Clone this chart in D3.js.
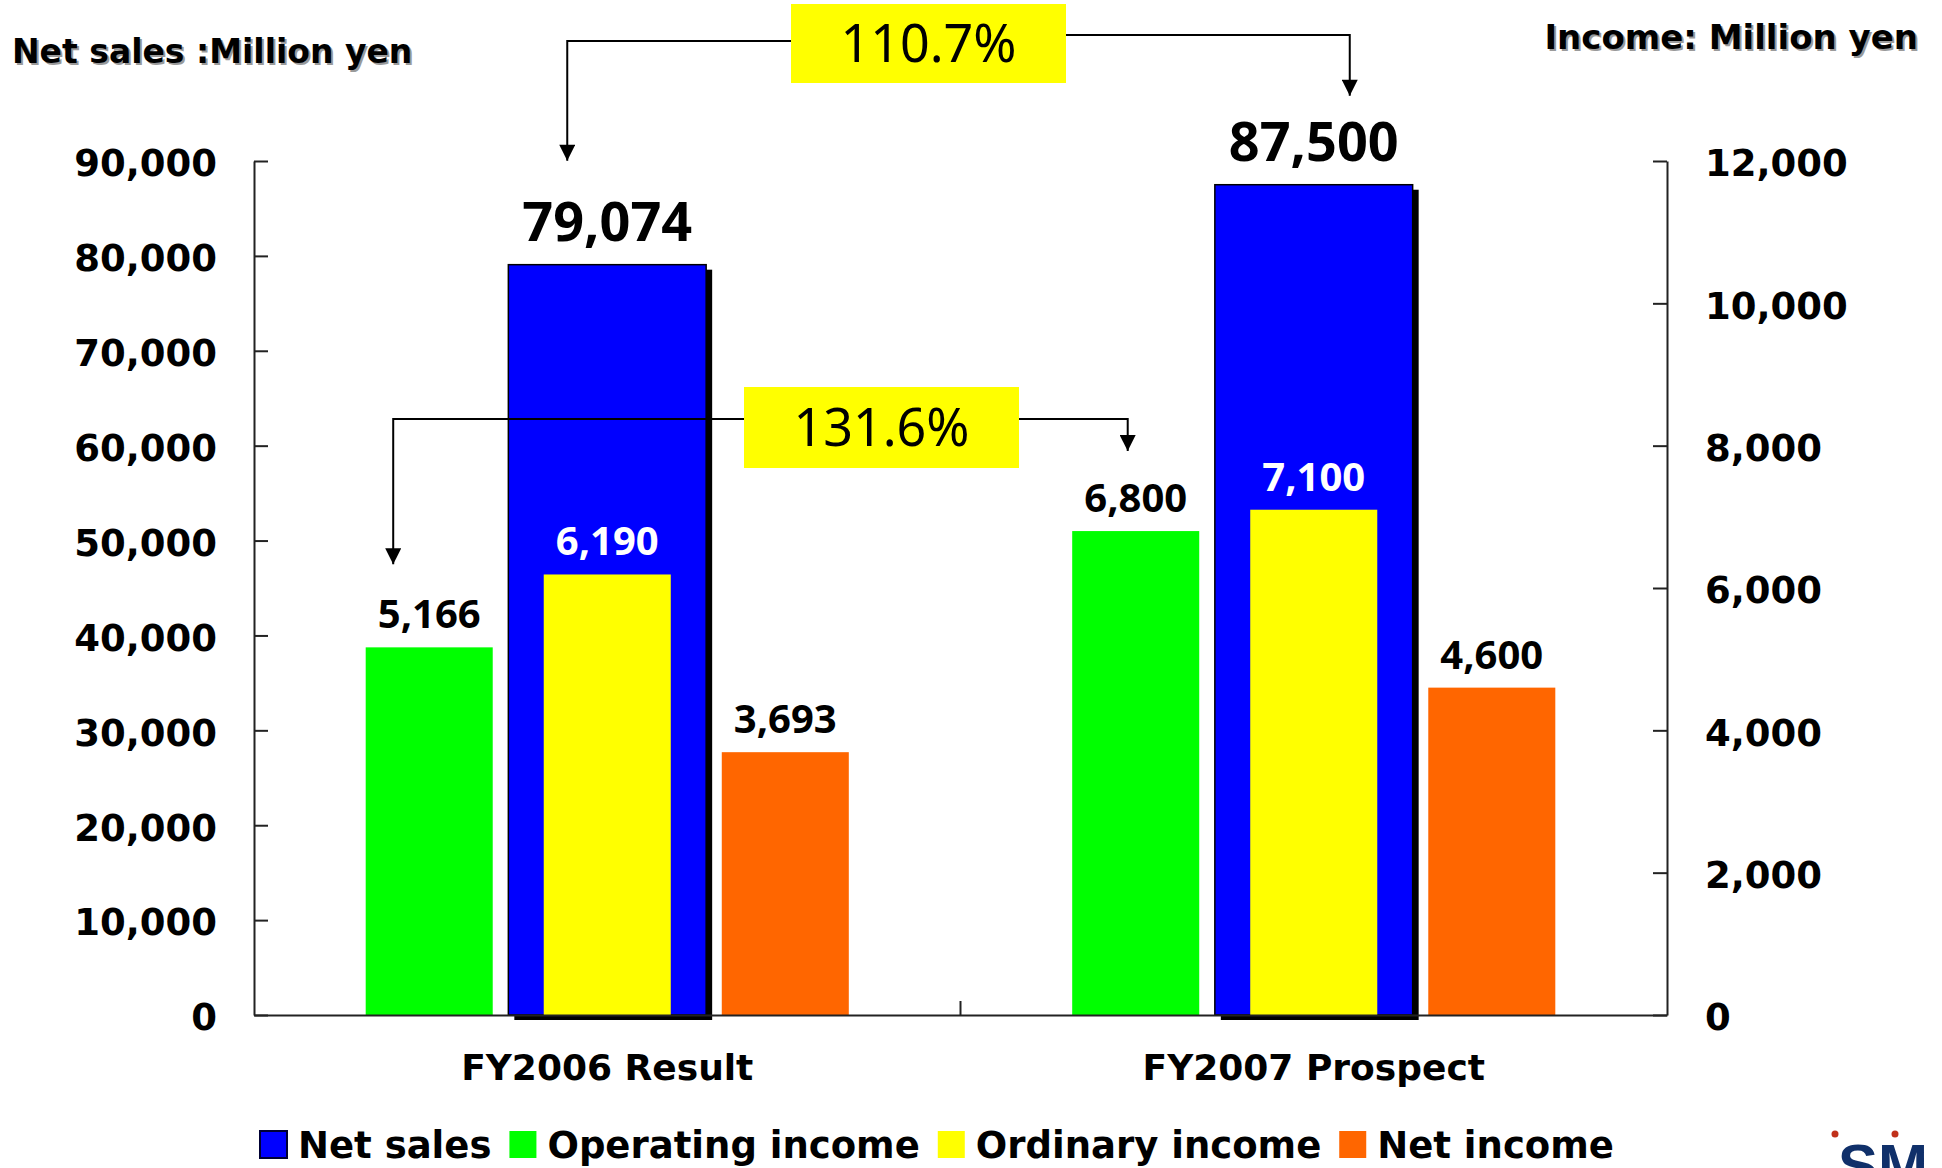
<!DOCTYPE html>
<html>
<head>
<meta charset="utf-8">
<script src="https://cdn.jsdelivr.net/npm/d3@7"></script>
<style>
  html, body { margin: 0; padding: 0; background: #ffffff; overflow: hidden; }
</style>
</head>
<body>
<svg id="chart" width="1942" height="1168"></svg>
<script>
// ---- data ----
const categories = ["FY2006 Result", "FY2007 Prospect"];
const netSales = [79074, 87500];
const operatingIncome = [5166, 6800];
const ordinaryIncome = [6190, 7100];
const netIncome = [3693, 4600];
const salesTicks = [0, 10000, 20000, 30000, 40000, 50000, 60000, 70000, 80000, 90000];
const incomeTicks = [0, 2000, 4000, 6000, 8000, 10000, 12000];
const seriesNames = ["Net sales", "Operating income", "Ordinary income", "Net income"];
const incomeSeries = ["Operating income", "Ordinary income", "Net income"];
const salesGrowth = "110.7%";
const operatingGrowth = "131.6%";

// ---- styling ----
const colors = {
  "Net sales": "#0000ff",
  "Operating income": "#00ff00",
  "Ordinary income": "#ffff00",
  "Net income": "#ff6600"
};
const axisFont = "'DejaVu Sans', Verdana, sans-serif";
const valueFont = "'Noto Sans', Tahoma, sans-serif";

const svg = d3.select("#chart");
const plot = { left: 254, right: 1667, top: 161, bottom: 1015 };

const ySales = d3.scaleLinear().domain([0, 90000]).range([plot.bottom, plot.top]);
const yIncome = d3.scaleLinear().domain([0, 12000]).range([plot.bottom, plot.top]);
const x0 = d3.scaleBand().domain(categories).range([plot.left, plot.right]).padding(0);
const bw = x0.bandwidth();
const x1 = d3.scaleBand().domain(incomeSeries)
  .range([bw / 2 - 0.378 * bw, bw / 2 + 0.378 * bw])
  .paddingInner(0.2865).paddingOuter(0.14325);
const salesWidth = 0.28 * bw;
const center = c => x0(c) + bw / 2;

// arrow head marker
svg.append("defs").append("marker")
  .attr("id", "arrow")
  .attr("viewBox", "0 0 10 10")
  .attr("refX", 10).attr("refY", 5)
  .attr("markerUnits", "userSpaceOnUse")
  .attr("markerWidth", 22).attr("markerHeight", 16)
  .attr("orient", "auto")
  .append("path").attr("d", "M0,0 L10,5 L0,10 Z").attr("fill", "#000");

// ---- axes ----
const leftAxis = svg.append("g")
  .attr("transform", `translate(${plot.left},0)`)
  .call(d3.axisLeft(ySales).tickValues(salesTicks).tickSize(-14).tickSizeOuter(0)
    .tickPadding(37).tickFormat(d3.format(",")));
const rightAxis = svg.append("g")
  .attr("transform", `translate(${plot.right},0)`)
  .call(d3.axisRight(yIncome).tickValues(incomeTicks).tickSize(-14).tickSizeOuter(0)
    .tickPadding(38).tickFormat(d3.format(",")));
[leftAxis, rightAxis].forEach(g => {
  g.select(".domain").attr("stroke", "#222").attr("stroke-width", 2);
  g.selectAll(".tick line").attr("stroke", "#222").attr("stroke-width", 2);
  g.selectAll(".tick text")
    .attr("dy", "0.4em")
    .attr("font-family", axisFont).attr("font-weight", "bold")
    .attr("font-size", 37).attr("fill", "#000");
});

// ---- net sales bars (left axis) with drop shadow ----
const salesG = svg.append("g");
salesG.selectAll("rect.shadow").data(categories).join("rect")
  .attr("class", "shadow")
  .attr("x", c => center(c) - salesWidth / 2 + 6)
  .attr("y", (c, i) => ySales(netSales[i]) + 5)
  .attr("width", salesWidth)
  .attr("height", (c, i) => plot.bottom - ySales(netSales[i]))
  .attr("fill", "#000");
salesG.selectAll("rect.bar").data(categories).join("rect")
  .attr("class", "bar")
  .attr("x", c => center(c) - salesWidth / 2)
  .attr("y", (c, i) => ySales(netSales[i]))
  .attr("width", salesWidth)
  .attr("height", (c, i) => plot.bottom - ySales(netSales[i]))
  .attr("fill", colors["Net sales"])
  .attr("stroke", "#000").attr("stroke-width", 1.5);

// ---- income bars (right axis) ----
const incomeValues = {
  "Operating income": operatingIncome,
  "Ordinary income": ordinaryIncome,
  "Net income": netIncome
};
const incomeData = [];
categories.forEach((c, i) => incomeSeries.forEach(s =>
  incomeData.push({ cat: c, series: s, value: incomeValues[s][i] })));

svg.append("g").selectAll("rect").data(incomeData).join("rect")
  .attr("x", d => x0(d.cat) + x1(d.series))
  .attr("y", d => yIncome(d.value))
  .attr("width", x1.bandwidth())
  .attr("height", d => plot.bottom - yIncome(d.value))
  .attr("fill", d => colors[d.series]);

// ---- baseline with category divider ----
const bottomAxis = svg.append("g")
  .attr("transform", `translate(0,${plot.bottom})`)
  .call(d3.axisBottom(x0).tickSize(0).tickPadding(39).tickSizeOuter(0));
bottomAxis.select(".domain").attr("stroke", "#222").attr("stroke-width", 2);
bottomAxis.selectAll(".tick text")
  .attr("font-family", axisFont).attr("font-weight", "bold")
  .attr("font-size", 36).attr("fill", "#000");
bottomAxis.append("line")
  .attr("x1", x0(categories[1])).attr("x2", x0(categories[1]))
  .attr("y1", 0).attr("y2", -14)
  .attr("stroke", "#222").attr("stroke-width", 2);

// ---- value labels ----
svg.append("g").selectAll("text").data(categories).join("text")
  .attr("x", c => center(c))
  .attr("y", (c, i) => ySales(netSales[i]) - 24)
  .attr("text-anchor", "middle")
  .attr("font-family", valueFont).attr("font-weight", "bold")
  .attr("font-size", 54).attr("fill", "#000")
  .text((c, i) => d3.format(",")(netSales[i]));

svg.append("g").selectAll("text").data(incomeData).join("text")
  .attr("x", d => x0(d.cat) + x1(d.series) + x1.bandwidth() / 2)
  .attr("y", d => yIncome(d.value) - 19)
  .attr("text-anchor", "middle")
  .attr("font-family", valueFont).attr("font-weight", "bold")
  .attr("font-size", 40)
  .attr("fill", d => d.series === "Ordinary income" ? "#ffffff" : "#000000")
  .text(d => d3.format(",")(d.value));

// ---- growth callouts ----
function callout(points1, points2, box, label) {
  const g = svg.append("g");
  const line = d3.line();
  [points1, points2].forEach(p => g.append("path")
    .attr("d", line(p)).attr("fill", "none")
    .attr("stroke", "#000").attr("stroke-width", 2)
    .attr("marker-end", "url(#arrow)"));
  g.append("rect")
    .attr("x", box.x).attr("y", box.y).attr("width", box.w).attr("height", box.h)
    .attr("fill", "#ffff00");
  g.append("text")
    .attr("x", box.x + box.w / 2).attr("y", box.y + box.h / 2)
    .attr("dy", "0.36em").attr("text-anchor", "middle")
    .attr("font-family", valueFont).attr("font-size", 52).attr("fill", "#000")
    .text(label);
}

// net sales growth: FY2006 -> FY2007
const sx1 = center(categories[0]) - 40, sx2 = center(categories[1]) + 36;
callout(
  [[792, 41], [sx1, 41], [sx1, ySales(netSales[0]) - 104]],
  [[1066, 35], [sx2, 35], [sx2, ySales(netSales[1]) - 89]],
  { x: 791, y: 4, w: 275, h: 79 }, salesGrowth);

// operating income growth: FY2006 -> FY2007
const ox1 = x0(categories[0]) + x1("Operating income") + x1.bandwidth() / 2 - 36;
const ox2 = x0(categories[1]) + x1("Operating income") + x1.bandwidth() / 2 - 8;
callout(
  [[744, 419], [ox1, 419], [ox1, yIncome(operatingIncome[0]) - 83]],
  [[1019, 419], [ox2, 419], [ox2, yIncome(operatingIncome[1]) - 80]],
  { x: 744, y: 387, w: 275, h: 81 }, operatingGrowth);

// ---- unit titles with soft shadow ----
function title(x, y, anchor, txt, size) {
  const g = svg.append("g").attr("font-family", axisFont)
    .attr("font-weight", "bold").attr("font-size", size).attr("text-anchor", anchor);
  g.append("text").attr("x", x + 2).attr("y", y + 2).attr("fill", "#9a9a9a").text(txt);
  g.append("text").attr("x", x).attr("y", y).attr("fill", "#000").text(txt);
}
title(12, 63, "start", "Net sales :Million yen", 33);
title(1918, 49, "end", "Income: Million yen", 34);

// ---- legend ----
const legend = svg.append("g").attr("transform", "translate(260,1131)");
let lx = 0;
seriesNames.forEach(name => {
  legend.append("rect").attr("x", lx).attr("y", 0).attr("width", 27).attr("height", 27)
    .attr("fill", colors[name])
    .attr("stroke", name === "Net sales" ? "#000033" : "none").attr("stroke-width", 2);
  const t = legend.append("text").attr("x", lx + 38).attr("y", 27)
    .attr("font-family", axisFont).attr("font-weight", "bold")
    .attr("font-size", 37).attr("fill", "#000").text(name);
  lx += 38 + t.node().getComputedTextLength() + 18;
});

// ---- corporate mark (partly cut at page edge) ----
const logo = svg.append("g");
logo.append("text").attr("x", 1838).attr("y", 1186)
  .attr("font-family", "'Liberation Sans', Arial, sans-serif").attr("font-weight", "bold")
  .attr("font-size", 60).attr("fill", "#10306a").text("SM");
logo.append("circle").attr("cx", 1835).attr("cy", 1134).attr("r", 3.5).attr("fill", "#c0301a");
logo.append("circle").attr("cx", 1895).attr("cy", 1134).attr("r", 3.5).attr("fill", "#c0301a");
</script>
</body>
</html>
